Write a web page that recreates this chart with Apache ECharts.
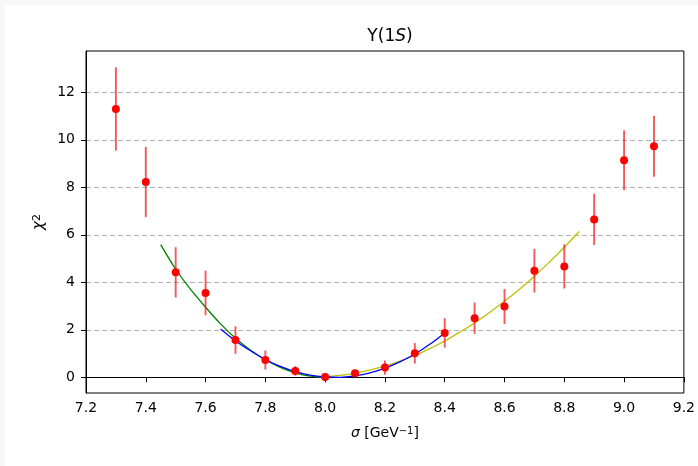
<!DOCTYPE html>
<html>
<head>
<meta charset="utf-8">
<script src="https://cdn.jsdelivr.net/npm/echarts@6/dist/echarts.min.js"></script>
<style>
  html, body { margin: 0; padding: 0; background: #f7f7f7; }
  #chart { position: absolute; left: 5px; top: 5px; width: 693px; height: 461px; background: #fff; }
</style>
</head>
<body>
<div id="chart"></div>
<script>
// measured points (sigma, chi2, error)
const sigma = [7.3, 7.4, 7.5, 7.6, 7.7, 7.8, 7.9, 8.0, 8.1, 8.2, 8.3, 8.4, 8.5, 8.6, 8.7, 8.8, 8.9, 9.0, 9.1];
const chi2 = [11.3, 8.22, 4.42, 3.55, 1.57, 0.73, 0.27, 0.01, 0.17, 0.41, 1.01, 1.87, 2.49, 2.98, 4.49, 4.67, 6.65, 9.14, 9.73];
const chi2Err = [1.75, 1.48, 1.06, 0.94, 0.58, 0.4, 0.2, 0.06, 0.12, 0.3, 0.43, 0.62, 0.66, 0.74, 0.92, 0.93, 1.08, 1.26, 1.28];

// fit curves
const greenX = [7.45, 7.5, 7.55, 7.6, 7.65, 7.7, 7.75, 7.8, 7.85, 7.9, 7.95, 8.0];
const greenY = [5.59, 4.55, 3.7, 2.95, 2.25, 1.65, 1.15, 0.74, 0.42, 0.19, 0.05, 0.0];
const blueX = [7.65, 7.7, 7.75, 7.8, 7.85, 7.9, 7.95, 8.0, 8.05, 8.1, 8.15, 8.2, 8.25, 8.3, 8.35, 8.4];
const blueY = [2.03, 1.53, 1.12, 0.75, 0.46, 0.24, 0.09, 0.02, 0.0, 0.06, 0.19, 0.39, 0.65, 0.98, 1.39, 1.87];
const yellowX = [8.0, 8.05, 8.1, 8.15, 8.2, 8.25, 8.3, 8.35, 8.4, 8.45, 8.5, 8.55, 8.6, 8.65, 8.7, 8.75, 8.8, 8.85];
const yellowY = [0.02, 0.08, 0.17, 0.31, 0.47, 0.68, 0.92, 1.21, 1.53, 1.9, 2.29, 2.73, 3.2, 3.71, 4.26, 4.85, 5.48, 6.14];

const yTicks = [0, 2, 4, 6, 8, 10, 12];

const font = 'DejaVu Sans';
const zip = (xs, ys) => xs.map((x, i) => [x, ys[i]]);
// italic + superscript pieces for the math-like labels
const mathRich = size => ({
  n: { fontFamily: font, fontSize: size, color: '#000', verticalAlign: 'bottom' },
  i: { fontFamily: font, fontSize: size, fontStyle: 'italic', color: '#000', verticalAlign: 'bottom' },
  s: { fontFamily: font, fontSize: Math.round(size * 0.7), color: '#000', verticalAlign: 'top' }
});

const chart = echarts.init(document.getElementById('chart'));
chart.setOption({
  animation: false,
  title: {
    text: '{n|Υ(1}{i|S}{n|)}',
    left: 380,
    top: 18,
    textAlign: 'center',
    textStyle: {
      fontFamily: font, fontSize: 17, fontWeight: 'normal', color: '#000',
      rich: mathRich(17)
    }
  },
  grid: { left: 81, right: 14, top: 46, bottom: 73, show: true, borderColor: '#000', borderWidth: 1 },
  xAxis: {
    type: 'value',
    min: 7.2, max: 9.2, interval: 0.2,
    name: '{i|σ}{n| [GeV}{s|−1}{n|]}',
    nameLocation: 'middle',
    nameGap: 33,
    nameTextStyle: { fontFamily: font, fontSize: 14, color: '#000', rich: mathRich(14) },
    axisLine: { lineStyle: { color: '#000', width: 1 } },
    axisTick: { inside: false, length: 5, lineStyle: { color: '#000' } },
    axisLabel: { fontFamily: font, fontSize: 14, color: '#000', margin: 8, formatter: v => v.toFixed(1) },
    splitLine: { show: false }
  },
  yAxis: {
    type: 'value',
    min: -0.66, max: 13.74,
    name: '{i|χ}{s|2}',
    nameLocation: 'middle',
    nameRotate: 90,
    nameGap: 38,
    nameTextStyle: { fontFamily: font, fontSize: 15, color: '#000', rich: mathRich(15) },
    axisLine: { show: true, lineStyle: { color: '#000', width: 1 } },
    axisTick: { show: true, length: 5, customValues: yTicks, lineStyle: { color: '#000' } },
    axisLabel: { fontFamily: font, fontSize: 14, color: '#000', margin: 11, customValues: yTicks },
    splitLine: { show: true, lineStyle: { color: '#b0b0b0', type: [5, 3], width: 1 } }
  },
  series: [
    {
      type: 'line', data: zip(greenX, greenY), showSymbol: false, smooth: 0.3,
      lineStyle: { color: '#008000', width: 1.3 }, z: 3
    },
    {
      type: 'line', data: zip(yellowX, yellowY), showSymbol: false, smooth: 0.3,
      lineStyle: { color: '#bfbf00', width: 1.3 }, z: 3
    },
    {
      type: 'line', data: zip(blueX, blueY), showSymbol: false, smooth: 0.3,
      lineStyle: { color: '#0000ff', width: 1.3 }, z: 4
    },
    {
      type: 'custom',
      data: sigma.map((x, i) => [x, chi2[i], chi2Err[i]]),
      renderItem: (params, api) => {
        const x = api.value(0), y = api.value(1), e = api.value(2);
        const p1 = api.coord([x, y - e]);
        const p2 = api.coord([x, y + e]);
        return {
          type: 'line',
          shape: { x1: p1[0], y1: p1[1], x2: p2[0], y2: p2[1] },
          style: { stroke: 'rgba(235,20,20,0.7)', lineWidth: 1.9 }
        };
      },
      z: 5
    },
    {
      type: 'scatter', data: zip(sigma, chi2), symbolSize: 8,
      itemStyle: { color: '#ff0000', opacity: 1 }, z: 6
    }
  ]
});
</script>
</body>
</html>
